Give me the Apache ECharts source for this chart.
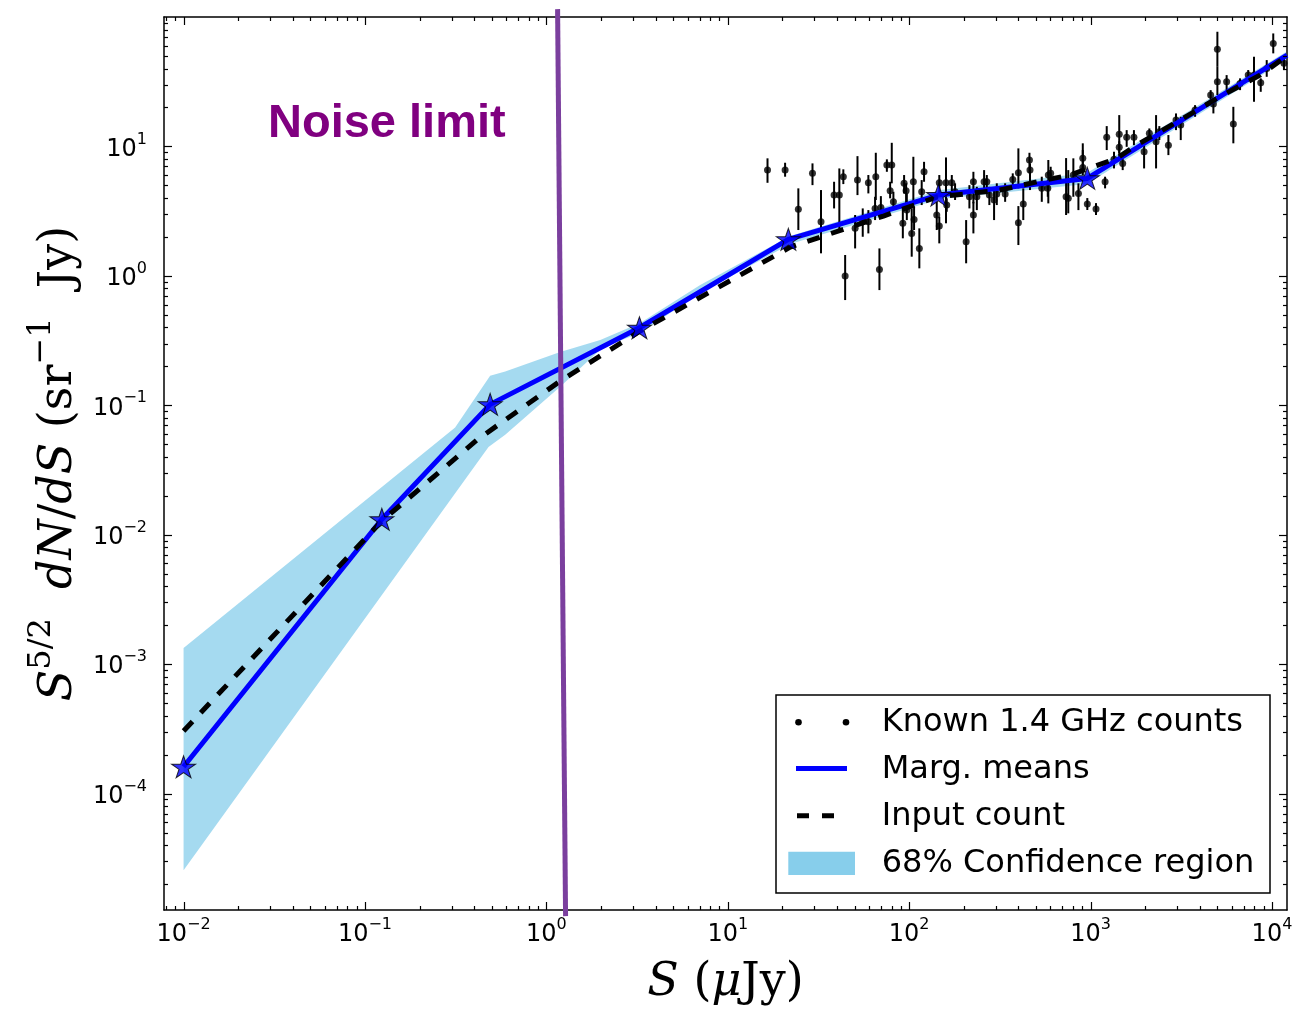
<!DOCTYPE html>
<html>
<head>
<meta charset="utf-8">
<script src="https://cdn.jsdelivr.net/npm/echarts@6/dist/echarts.min.js"></script>
<style>html,body{margin:0;padding:0;background:#fff}#c{width:1292px;height:1009px}</style>
</head>
<body>
<div id="c"></div>
<script>
// ---- axis ranges and tick labels ----
const xMin = 0.0078, xMax = 12100;
const yMin = 1.26e-5, yMax = 100;
const xMajorTicks = [0.01, 0.1, 1, 10, 100, 1000, 10000];
const yMajorTicks = [1e-4, 1e-3, 1e-2, 1e-1, 1, 10];

// ---- data (log10 values) ----
// Marg. means (stars)
const meansLogS = [-2.0, -0.907, -0.310, 0.513, 1.334, 2.161, 2.982];
const meansLogY = [-3.793, -1.881, -0.993, -0.401, 0.282, 0.624, 0.753];
// continuation of the means line to the right frame
const meansEdgeLogS = [4.083];
const meansEdgeLogY = [1.706];

// Input count (dashed)
const inputLogS = [-2.0, -0.907, -0.383, 0.076, 0.517, 1.344, 1.858, 2.152, 2.501, 2.749, 2.887, 3.025, 3.144, 3.245, 3.493, 3.713, 3.934, 4.077];
const inputLogY = [-3.516, -1.894, -1.268, -0.813, -0.426, 0.222, 0.462, 0.609, 0.663, 0.740, 0.779, 0.848, 0.908, 1.003, 1.204, 1.384, 1.551, 1.693];

// 68% confidence region
const bandUpperLogS = [-2.0, -0.503, -0.310, -0.227, 0.076, 0.297, 0.517, 0.848, 1.344, 2.170, 2.980, 4.077];
const bandUpperLogY = [-2.875, -1.172, -0.772, -0.739, -0.589, -0.496, -0.365, -0.071, 0.307, 0.663, 0.794, 1.729];
const bandLowerLogS = [-2.0, -0.319, -0.227, 0.076, 0.313, 0.517, 0.848, 1.344, 2.170, 2.980, 4.077];
const bandLowerLogY = [-4.593, -1.323, -1.227, -0.857, -0.550, -0.442, -0.133, 0.246, 0.593, 0.709, 1.667];

// Known 1.4 GHz counts with error bars
const knownLogS = [1.219,1.316,1.389,1.467,1.514,1.586,1.615,1.637,1.647,1.702,1.715,1.744,1.775,1.775,1.812,1.816,1.836,1.844,1.877,1.904,1.895,1.913,1.965,1.972,1.983,1.987,2.014,2.023,2.027,2.056,2.069,2.082,2.152,2.166,2.166,2.203,2.207,2.235,2.253,2.314,2.332,2.354,2.354,2.373,2.413,2.428,2.442,2.468,2.483,2.529,2.571,2.602,2.602,2.629,2.663,2.666,2.731,2.764,2.767,2.780,2.865,2.877,2.905,2.933,2.957,2.957,2.982,3.030,3.080,3.089,3.129,3.158,3.158,3.177,3.199,3.239,3.295,3.324,3.361,3.379,3.429,3.471,3.497,3.576,3.662,3.677,3.699,3.699,3.750,3.787,3.824,3.869,3.901,3.938,3.971,4.007,4.066];
const knownLogY = [0.817,0.817,0.514,0.792,0.418,0.624,0.624,0.766,-0.002,0.367,0.740,0.418,0.719,0.418,0.521,0.766,0.050,0.529,0.856,0.856,0.657,0.572,0.406,0.715,0.657,0.508,0.328,0.727,0.436,0.212,0.650,0.804,0.470,0.385,0.719,0.719,0.547,0.719,0.650,0.263,0.611,0.727,0.470,0.611,0.727,0.727,0.624,0.586,0.632,0.632,0.745,0.410,0.796,0.555,0.895,0.817,0.676,0.676,0.779,0.792,0.611,0.599,0.779,0.637,0.908,0.838,0.555,0.516,0.727,1.070,0.900,1.095,0.993,0.869,1.070,1.070,0.959,1.101,1.036,1.113,1.010,1.204,1.165,1.281,1.397,1.327,1.750,1.499,1.499,1.173,1.487,1.551,1.551,1.492,1.603,1.796,1.642];
const knownLogLo = [0.719,0.766,0.354,0.701,0.174,0.521,0.354,0.709,-0.187,0.212,0.624,0.302,0.637,0.328,0.431,0.586,-0.110,0.444,0.804,0.715,0.599,0.521,0.290,0.637,0.521,0.431,0.148,0.560,0.354,0.058,0.547,0.727,0.354,0.251,0.637,0.406,0.495,0.650,0.586,0.097,0.521,0.560,0.328,0.508,0.663,0.663,0.547,0.431,0.547,0.572,0.688,0.238,0.676,0.431,0.792,0.663,0.572,0.611,0.560,0.715,0.470,0.483,0.611,0.508,0.804,0.779,0.509,0.470,0.676,0.972,0.830,0.895,0.950,0.817,0.997,1.010,0.830,1.049,0.830,1.049,0.933,1.126,1.049,1.229,1.345,1.255,1.615,1.397,1.435,1.024,1.435,1.499,1.345,1.422,1.538,1.719,1.590];
const knownLogHi = [0.908,0.874,0.676,0.869,0.663,0.727,0.830,0.823,0.161,0.470,0.925,0.521,0.779,0.508,0.611,0.951,0.212,0.616,0.900,1.028,0.727,0.650,0.521,0.779,0.715,0.637,0.521,0.920,0.534,0.367,0.740,0.881,0.572,0.457,0.779,0.915,0.599,0.779,0.715,0.431,0.701,0.804,0.572,0.688,0.817,0.779,0.688,0.663,0.715,0.715,0.792,0.539,0.985,0.676,0.951,0.869,0.766,0.740,0.895,0.843,0.910,0.817,0.908,0.715,0.972,1.024,0.601,0.562,0.766,1.157,0.959,1.242,1.040,0.908,1.126,1.126,1.024,1.139,1.242,1.157,1.088,1.255,1.229,1.319,1.435,1.371,1.886,1.615,1.551,1.306,1.526,1.590,1.693,1.526,1.667,1.873,1.693];

// Noise limit marker line (ends, drawn past the frame)
const noiseLimitS = [1.153, 1.276];
const noiseLimitY = [115, 1.13e-5];

// ---- helpers ----
const p10 = v => Math.pow(10, v);
const pairs = (xs, ys) => xs.map((x, i) => [p10(x), p10(ys[i])]);

function minorTicks(lo, hi) {
  const out = [];
  for (let e = Math.floor(Math.log10(lo)) - 1; e <= Math.ceil(Math.log10(hi)); e++) {
    for (let m = 2; m <= 9; m++) {
      const v = m * Math.pow(10, e);
      if (v >= lo && v <= hi) out.push(v);
    }
  }
  return out;
}
const xMinorTicks = minorTicks(xMin, xMax);
const yMinorTicks = minorTicks(yMin, yMax);

const supLabel = v => {
  const e = Math.round(Math.log10(v));
  return '{b|10}{s|' + (e < 0 ? '\u2212' + (-e) : String(e)) + '}';
};
const tickRich = {
  b: { fontFamily: 'DejaVu Sans', fontSize: 24, color: '#000', lineHeight: 30, verticalAlign: 'bottom' },
  s: { fontFamily: 'DejaVu Sans', fontSize: 16, color: '#000', lineHeight: 16, verticalAlign: 'top' }
};
const nameFont = 'DejaVu Serif';
const nameRich = {
  i: { fontFamily: nameFont, fontStyle: 'italic', fontSize: 46, color: '#000', lineHeight: 56, verticalAlign: 'bottom' },
  n: { fontFamily: nameFont, fontSize: 46, color: '#000', lineHeight: 56, verticalAlign: 'bottom' },
  s: { fontFamily: nameFont, fontSize: 32, color: '#000', lineHeight: 32, verticalAlign: 'top' }
};

const frameLine = { show: true, onZero: false, lineStyle: { color: '#000', width: 1.5 } };

const xAxes = [
  {
    type: 'log', position: 'bottom', min: xMin, max: xMax,
    axisLine: frameLine, axisTick: { show: false },
    axisLabel: { show: true, margin: 7, customValues: xMajorTicks, formatter: supLabel, rich: tickRich },
    splitLine: { show: false }, minorTick: { show: false },
    name: '{i|S}{n| (}{i|\u03bc}{n|Jy)}', nameLocation: 'middle', nameGap: 40,
    nameTextStyle: { rich: nameRich }
  },
  {
    type: 'log', position: 'top', min: xMin, max: xMax,
    axisLine: frameLine, axisTick: { show: false }, axisLabel: { show: false },
    splitLine: { show: false }, minorTick: { show: false }
  }
];
const yAxes = [
  {
    type: 'log', position: 'left', min: yMin, max: yMax,
    axisLine: frameLine, axisTick: { show: false },
    axisLabel: { show: true, margin: 17, customValues: yMajorTicks, formatter: supLabel, rich: tickRich },
    splitLine: { show: false }, minorTick: { show: false },
    name: '{i|S}{s|5/2}{n|  }{i|dN}{n|/}{i|dS}{n| (sr}{s|\u22121}{n|  Jy)}',
    nameLocation: 'middle', nameGap: 80, nameRotate: 90,
    nameTextStyle: { rich: nameRich }
  },
  {
    type: 'log', position: 'right', min: yMin, max: yMax,
    axisLine: frameLine, axisTick: { show: false }, axisLabel: { show: false },
    splitLine: { show: false }, minorTick: { show: false }
  }
];

// tick marks (major + minor, on all four sides), placed through the axis scales
const tickData = [];
xMajorTicks.forEach(v => tickData.push([v, 1, 0]));
xMinorTicks.forEach(v => tickData.push([v, 1, 1]));
yMajorTicks.forEach(v => tickData.push([1, v, 2]));
yMinorTicks.forEach(v => tickData.push([1, v, 3]));

const starPath = 'path://M50,0L61.23,34.55L97.55,34.55L68.17,55.9L79.39,90.45L50,69.1L20.61,90.45L31.83,55.9L2.45,34.55L38.77,34.55Z';

const knownPoints = pairs(knownLogS, knownLogY);
const knownBars = knownLogS.map((s, i) => [p10(s), p10(knownLogLo[i]), p10(knownLogHi[i])]);
const meansPts = pairs(meansLogS, meansLogY);
const meansLine = meansPts.concat(pairs(meansEdgeLogS, meansEdgeLogY));
const inputPts = pairs(inputLogS, inputLogY);
const bandUpper = pairs(bandUpperLogS, bandUpperLogY);
const bandLower = pairs(bandLowerLogS, bandLowerLogY);
const noisePts = noiseLimitS.map((s, i) => [s, noiseLimitY[i]]);

const series = [
  {
    name: '68% Confidence region', type: 'custom', z: 1, clip: true,
    data: [[1, 1]],
    renderItem: function (params, api) {
      const pts = [];
      bandUpper.forEach(p => pts.push(api.coord(p)));
      for (let i = bandLower.length - 1; i >= 0; i--) pts.push(api.coord(bandLower[i]));
      return { type: 'polygon', shape: { points: pts }, style: { fill: 'rgba(135,206,235,0.75)' } };
    }
  },
  {
    name: 'Known 1.4 GHz counts errors', type: 'custom', z: 2, clip: true,
    encode: { x: 0, y: [1, 2] },
    data: knownBars,
    renderItem: function (params, api) {
      const a = api.coord([api.value(0), api.value(1)]);
      const b = api.coord([api.value(0), api.value(2)]);
      return { type: 'line', shape: { x1: a[0], y1: a[1], x2: b[0], y2: b[1] }, style: { stroke: '#000', lineWidth: 2 } };
    }
  },
  {
    name: 'Known 1.4 GHz counts', type: 'scatter', z: 3, symbol: 'circle', symbolSize: 7,
    itemStyle: { color: '#000' }, data: knownPoints
  },
  {
    name: 'Marg. means', type: 'line', z: 4, symbol: 'none', data: meansLine,
    lineStyle: { color: '#0000ff', width: 5 }
  },
  {
    name: 'Input count', type: 'line', z: 5, symbol: 'none', data: inputPts,
    lineStyle: { color: '#000', width: 5, type: [13, 12] }
  },
  {
    name: 'Marg. means stars', type: 'scatter', z: 6, symbol: starPath, symbolSize: [24, 23], symbolKeepAspect: true,
    itemStyle: { color: '#0000ff', borderColor: '#000', borderWidth: 1 }, data: meansPts
  },
  {
    name: 'Noise limit', type: 'line', z: 7, symbol: 'none', clip: false, data: noisePts,
    lineStyle: { color: '#7b3f9e', width: 5 }
  },
  {
    name: 'ticks', type: 'custom', z: 8, clip: false, silent: true,
    encode: { x: 0, y: 1 },
    data: tickData,
    renderItem: function (params, api) {
      const cs = params.coordSys;
      const kind = api.value(2);
      const len = (kind === 0 || kind === 2) ? 8 : 4;
      const st = { stroke: '#000', lineWidth: 1.2 };
      if (kind < 2) {
        const px = Math.round(api.coord([api.value(0), 1])[0]) + 0.5;
        const yb = cs.y + cs.height, yt = cs.y;
        return { type: 'group', children: [
          { type: 'line', shape: { x1: px, y1: yb, x2: px, y2: yb - len }, style: st },
          { type: 'line', shape: { x1: px, y1: yt, x2: px, y2: yt + len }, style: st }
        ] };
      }
      const py = Math.round(api.coord([1, api.value(1)])[1]) + 0.5;
      const xl = cs.x, xr = cs.x + cs.width;
      return { type: 'group', children: [
        { type: 'line', shape: { x1: xl, y1: py, x2: xl + len, y2: py }, style: st },
        { type: 'line', shape: { x1: xr, y1: py, x2: xr - len, y2: py }, style: st }
      ] };
    }
  }
];

// legend (drawn to match the reference layout)
const legendFont = '32px "DejaVu Sans"';
const graphic = [
  { type: 'text', z: 50, style: { x: 268, y: 124, text: 'Noise limit', font: 'bold 47px "Liberation Sans"', fill: '#800080', align: 'left', verticalAlign: 'middle' } },
  { type: 'rect', z: 60, shape: { x: 776, y: 695, width: 494, height: 198 }, style: { fill: '#fff', stroke: '#000', lineWidth: 1.5 } },
  { type: 'circle', z: 61, shape: { cx: 798.5, cy: 722.3, r: 3.3 }, style: { fill: '#000' } },
  { type: 'circle', z: 61, shape: { cx: 846, cy: 722.3, r: 3.3 }, style: { fill: '#000' } },
  { type: 'line', z: 61, shape: { x1: 796, y1: 768.5, x2: 847, y2: 768.5 }, style: { stroke: '#0000ff', lineWidth: 5 } },
  { type: 'line', z: 61, shape: { x1: 797, y1: 815.8, x2: 847, y2: 815.8 }, style: { stroke: '#000', lineWidth: 5, lineDash: [12, 13] } },
  { type: 'rect', z: 61, shape: { x: 788.3, y: 851.7, width: 66.7, height: 23.3 }, style: { fill: '#87ceeb' } },
  { type: 'text', z: 61, style: { x: 881.7, y: 723, text: 'Known 1.4 GHz counts', font: legendFont, fill: '#000', verticalAlign: 'middle' } },
  { type: 'text', z: 61, style: { x: 881.7, y: 770, text: 'Marg. means', font: legendFont, fill: '#000', verticalAlign: 'middle' } },
  { type: 'text', z: 61, style: { x: 881.7, y: 816.7, text: 'Input count', font: legendFont, fill: '#000', verticalAlign: 'middle' } },
  { type: 'text', z: 61, style: { x: 881.7, y: 864, text: '68% Confidence region', font: legendFont, fill: '#000', verticalAlign: 'middle' } }
];

const chart = echarts.init(document.getElementById('c'), null, { renderer: 'canvas' });
chart.setOption({
  animation: false,
  backgroundColor: '#fff',
  grid: { left: 164, right: 5, top: 17, bottom: 99, containLabel: false, outerBoundsMode: 'none' },
  xAxis: xAxes,
  yAxis: yAxes,
  series: series,
  graphic: graphic
});
</script>
</body>
</html>
